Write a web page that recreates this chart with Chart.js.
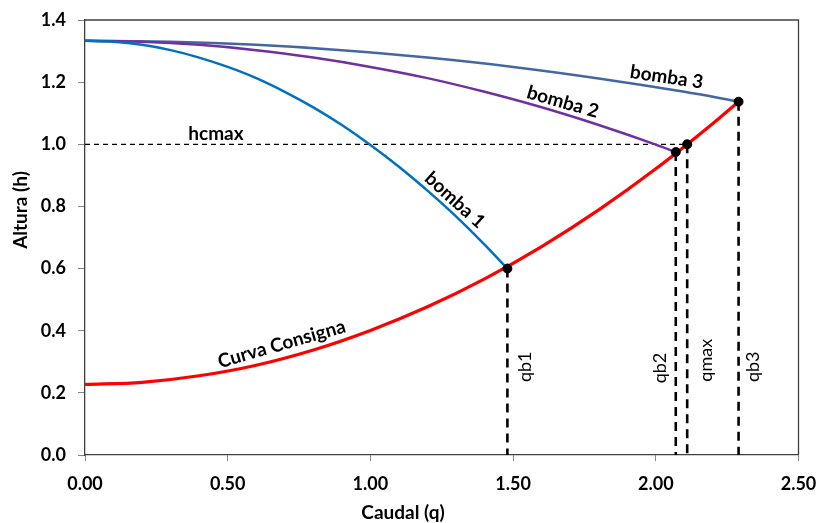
<!DOCTYPE html>
<html><head><meta charset="utf-8">
<script src="https://cdn.jsdelivr.net/npm/chart.js@4"></script>
<style>html,body{margin:0;padding:0;background:#fff}canvas{display:block}</style>
</head><body>
<canvas id="c" width="818" height="523"></canvas>
<script>
// ---- data ----
const bomba1Q = [0, 0.1, 0.2, 0.3, 0.4, 0.5, 0.6, 0.7, 0.8, 0.9, 1.0, 1.1, 1.2, 1.3, 1.4, 1.48];
const bomba1H = [1.333, 1.330, 1.320, 1.303, 1.279, 1.249, 1.213, 1.169, 1.119, 1.062, 0.998, 0.928, 0.851, 0.768, 0.677, 0.600];
const bomba2Q = [0, 0.2, 0.4, 0.6, 0.8, 1.0, 1.2, 1.4, 1.6, 1.8, 2.0, 2.07];
const bomba2H = [1.333, 1.330, 1.320, 1.303, 1.279, 1.249, 1.213, 1.169, 1.119, 1.062, 0.999, 0.975];
const bomba3Q = [0, 0.3, 0.6, 0.9, 1.2, 1.5, 1.8, 2.1, 2.29];
const bomba3H = [1.333, 1.330, 1.320, 1.303, 1.279, 1.249, 1.212, 1.169, 1.138];
const consignaQ = [0, 0.2, 0.4, 0.6, 0.8, 1.0, 1.2, 1.4, 1.6, 1.8, 2.0, 2.2, 2.29];
const consignaH = [0.227, 0.234, 0.255, 0.289, 0.338, 0.401, 0.477, 0.567, 0.671, 0.789, 0.921, 1.067, 1.137];
const dotQ = [1.48, 2.07, 2.11, 2.29];
const dotH = [0.600, 0.975, 1.000, 1.137];
const hcmaxQ = [0, 2.11];
const hcmaxH = [1.0, 1.0];
const xTickLabels = ['0.00', '0.50', '1.00', '1.50', '2.00', '2.50'];
const yTickLabels = ['0.0', '0.2', '0.4', '0.6', '0.8', '1.0', '1.2', '1.4'];
const verticalNames = ['qb1', 'qb2', 'qmax', 'qb3'];
const xTitle = 'Caudal (q)';
const yTitle = 'Altura (h)';

// ---- annotation placement (data coordinates) ----
const annotations = [
  {text: 'bomba 1', q: 1.296, h: 0.820, angle: 42, bold: true},
  {text: 'bomba 2', q: 1.674, h: 1.136, angle: 16, bold: true},
  {text: 'bomba 3', q: 2.038, h: 1.216, angle: 8.5, bold: true},
  {text: 'Curva Consigna', q: 0.689, h: 0.357, angle: -16, bold: true},
  {text: 'hcmax', q: 0.459, h: 1.034, angle: 0, bold: true},
  {text: verticalNames[0], q: 1.542, h: 0.284, angle: -90, bold: false},
  {text: verticalNames[1], q: 2.017, h: 0.280, angle: -90, bold: false},
  {text: verticalNames[2], q: 2.176, h: 0.305, angle: -90, bold: false},
  {text: verticalNames[3], q: 2.342, h: 0.284, angle: -90, bold: false}
];

const pts = (qs, hs) => qs.map((q, i) => ({x: q, y: hs[i]}));
const FONT = 'Lato';

const curve = (label, qs, hs, color, w) => ({
  label, data: pts(qs, hs), showLine: true, borderColor: color, backgroundColor: color,
  borderWidth: w, pointRadius: 0, cubicInterpolationMode: 'monotone', order: 2
});

const datasets = [
  {label: 'dots', data: pts(dotQ, dotH), showLine: false, pointRadius: 4.5,
   pointBackgroundColor: '#000', pointBorderColor: '#000', order: 0},
  curve('bomba 1', bomba1Q, bomba1H, '#0070C0', 2.5),
  curve('bomba 2', bomba2Q, bomba2H, '#7030A0', 2.5),
  curve('bomba 3', bomba3Q, bomba3H, '#44679E', 2.5),
  curve('Curva Consigna', consignaQ, consignaH, '#FF0000', 3.2),
  {label: 'hcmax', data: pts(hcmaxQ, hcmaxH), showLine: true, borderColor: '#000',
   borderWidth: 1.3, borderDash: [5, 4], pointRadius: 0, order: 3}
];
dotQ.forEach((q, i) => {
  datasets.push({label: verticalNames[i], data: [{x: q, y: dotH[i]}, {x: q, y: 0}],
    showLine: true, borderColor: '#000', borderWidth: 2.6, borderDash: [9, 6],
    pointRadius: 0, order: 3});
});

const framePlugin = {
  id: 'frame',
  afterDraw(chart) {
    const {ctx, chartArea: a} = chart;
    ctx.save();
    ctx.strokeStyle = '#404040';
    ctx.lineWidth = 1.3;
    ctx.beginPath();
    ctx.moveTo(a.left, a.top);
    ctx.lineTo(a.right, a.top);
    ctx.lineTo(a.right, a.bottom);
    ctx.stroke();
    // axis titles (placed as in the reference, offset from the plot centre)
    ctx.fillStyle = '#000';
    ctx.font = 'bold 19px ' + FONT;
    ctx.textAlign = 'center';
    ctx.textBaseline = 'middle';
    ctx.fillText(xTitle, 403, 513);
    ctx.translate(21, 210);
    ctx.rotate(-Math.PI / 2);
    ctx.fillText(yTitle, 0, 0);
    ctx.restore();
  }
};

const labelPlugin = {
  id: 'labels',
  afterDatasetsDraw(chart) {
    const {ctx, scales: {x, y}} = chart;
    annotations.forEach(a => {
      ctx.save();
      ctx.translate(x.getPixelForValue(a.q), y.getPixelForValue(a.h));
      ctx.rotate(a.angle * Math.PI / 180);
      ctx.font = a.bold ? 'bold 19px ' + FONT : '18px ' + FONT;
      ctx.fillStyle = '#000';
      ctx.textAlign = 'center';
      ctx.textBaseline = 'middle';
      ctx.fillText(a.text, 0, 0);
      ctx.restore();
    });
  }
};

Chart.defaults.font.family = FONT;
Chart.defaults.color = '#000';

new Chart(document.getElementById('c'), {
  type: 'scatter',
  data: {datasets},
  options: {
    responsive: false,
    animation: false,
    devicePixelRatio: 1,
    layout: {padding: {top: 20, right: 19.5, left: 0, bottom: 0}},
    plugins: {legend: {display: false}, tooltip: {enabled: false}},
    scales: {
      x: {
        type: 'linear', min: 0, max: 2.5,
        afterFit(s) { s.height = 68; s.paddingLeft = 0; s.paddingRight = 0; },
        ticks: {stepSize: 0.5, padding: 12, font: {size: 18, weight: 'bold'},
          callback: (v) => xTickLabels[Math.round(v / 0.5)]},
        grid: {drawOnChartArea: false, drawTicks: true, tickLength: 6, color: '#868686'},
        border: {display: true, color: '#404040', width: 1.3},
        title: {display: false}
      },
      y: {
        type: 'linear', min: 0, max: 1.4,
        afterFit(s) { s.width = 85; s.paddingTop = 0; s.paddingBottom = 0; },
        ticks: {stepSize: 0.2, padding: 12, font: {size: 18, weight: 'bold'},
          callback: (v) => yTickLabels[Math.round(v / 0.2)]},
        grid: {drawOnChartArea: false, drawTicks: true, tickLength: 7, color: '#868686'},
        border: {display: true, color: '#404040', width: 1.3},
        title: {display: false}
      }
    }
  },
  plugins: [framePlugin, labelPlugin]
});
</script>
</body></html>
